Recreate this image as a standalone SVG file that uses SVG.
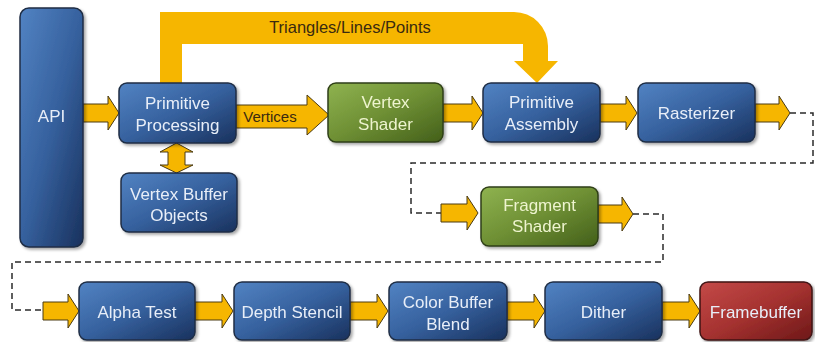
<svg xmlns="http://www.w3.org/2000/svg" width="815" height="342" viewBox="0 0 815 342">
<style>
.node{stroke:#1f2d45;stroke-width:1.5}
.blue{fill:url(#gBlue)}
.green{fill:url(#gGreen);stroke:#2f3f18}
.red{fill:url(#gRed);stroke:#3f1414}
.lbl{font-family:"Liberation Sans",Arial,sans-serif;font-size:17px;text-anchor:middle;fill:#e8eef8}
.glbl{fill:#eef4cf}
.arr{fill:#f6b600;stroke:#4a3a12;stroke-width:1}
.dash{fill:none;stroke:#2a2a2a;stroke-width:1.5;stroke-dasharray:6 4}
.atext{font-family:"Liberation Sans",Arial,sans-serif;fill:#3a2a10;text-anchor:middle}
</style>
<defs>
<linearGradient id="gBlue" x1="0" y1="0" x2="1" y2="1">
<stop offset="0" stop-color="#5283c3"/>
<stop offset="0.5" stop-color="#36619e"/>
<stop offset="1" stop-color="#19315d"/>
</linearGradient>
<linearGradient id="gGreen" x1="0" y1="0" x2="1" y2="1">
<stop offset="0" stop-color="#8fb350"/>
<stop offset="0.5" stop-color="#6e8f34"/>
<stop offset="1" stop-color="#435f1a"/>
</linearGradient>
<linearGradient id="gRed" x1="0" y1="0" x2="1" y2="1">
<stop offset="0" stop-color="#c44a48"/>
<stop offset="0.5" stop-color="#a53230"/>
<stop offset="1" stop-color="#6e1818"/>
</linearGradient>
<filter id="sh" x="-10%" y="-10%" width="130%" height="130%">
<feDropShadow dx="2" dy="2" stdDeviation="1.5" flood-color="#000" flood-opacity="0.35"/>
</filter>
</defs>
<rect width="815" height="342" fill="#ffffff"/>

<g id="connectors">
<!-- big top arrow -->
<path d="M160,84 L160,12 L514,12 A34,34 0 0 1 548,46 L548,61 L558,61 L537,83 L514,61 L523,61 L523,44 L182,44 L182,84 Z" fill="#f6b600"/>
<text class="atext" x="350" y="33" font-size="16.5">Triangles/Lines/Points</text>
<!-- API -> Primitive Processing -->
<polygon class="arr" points="83,104 108,104 108,96 119,113 108,130 108,122 83,122"/>
<!-- Vertices -->
<polygon class="arr" points="236,105 307,105 307,95 329,115 307,135 307,128 236,128"/>
<text class="atext" x="270" y="122" font-size="15">Vertices</text>
<!-- VS -> PA -->
<polygon class="arr" points="443,104 472,104 472,96 483,113 472,130 472,122 443,122"/>
<!-- PA -> Rasterizer -->
<polygon class="arr" points="600,104 626,104 626,96 637,113 626,130 626,122 600,122"/>
<!-- Rasterizer out -->
<polygon class="arr" points="755,104 779,104 779,96 790,113 779,130 779,122 755,122"/>
<!-- double arrow PP <-> VBO -->
<polygon class="arr" points="176.5,143 193,152 185,152 185,165 193,165 176.5,173 160,165 168,165 168,152 160,152"/>
<!-- dashed route 1 -->
<path class="dash" d="M790,113 L813,113 L813,163 L411,163 L411,213 L441,213"/>
<!-- into fragment -->
<polygon class="arr" points="441,204 467,204 467,196 478,213 467,230 467,222 441,222"/>
<!-- out of fragment -->
<polygon class="arr" points="598,205 622,205 622,197 633,214 622,231 622,223 598,223"/>
<!-- dashed route 2 -->
<path class="dash" d="M633,214 L663,214 L663,262 L12,262 L12,310 L43,310"/>
<!-- bottom row arrows -->
<polygon class="arr" points="43,302 68,302 68,294 79,311 68,328 68,320 43,320"/>
<polygon class="arr" points="195,302 222,302 222,294 233,311 222,328 222,320 195,320"/>
<polygon class="arr" points="350,302 377,302 377,294 388,311 377,328 377,320 350,320"/>
<polygon class="arr" points="507,302 534,302 534,294 545,311 534,328 534,320 507,320"/>
<polygon class="arr" points="662,302 689,302 689,294 700,311 689,328 689,320 662,320"/>
</g>

<g id="api" filter="url(#sh)">
<rect class="node blue" x="20" y="8" width="63" height="239" rx="9"/>
<text class="lbl" x="51.5" y="122" font-size="17.5">API</text>
</g>
<g id="primitive-processing" filter="url(#sh)">
<rect class="node blue" x="119" y="83" width="117" height="60" rx="8"/>
<text class="lbl" x="177.5" y="109">Primitive</text>
<text class="lbl" x="177.5" y="131">Processing</text>
</g>
<g id="vertex-buffer-objects" filter="url(#sh)">
<rect class="node blue" x="121" y="173" width="116" height="59" rx="8"/>
<text class="lbl" x="179" y="200">Vertex Buffer</text>
<text class="lbl" x="179" y="221">Objects</text>
</g>
<g id="vertex-shader" filter="url(#sh)">
<rect class="node green" x="328" y="83" width="115" height="59" rx="8"/>
<text class="lbl glbl" x="385.5" y="108">Vertex</text>
<text class="lbl glbl" x="385.5" y="130">Shader</text>
</g>
<g id="primitive-assembly" filter="url(#sh)">
<rect class="node blue" x="483" y="83" width="117" height="59" rx="8"/>
<text class="lbl" x="541.5" y="108">Primitive</text>
<text class="lbl" x="541.5" y="130">Assembly</text>
</g>
<g id="rasterizer" filter="url(#sh)">
<rect class="node blue" x="638" y="83" width="117" height="59" rx="8"/>
<text class="lbl" x="696.5" y="119">Rasterizer</text>
</g>
<g id="fragment-shader" filter="url(#sh)">
<rect class="node green" x="481" y="187" width="117" height="59" rx="8"/>
<text class="lbl glbl" x="539.5" y="211">Fragment</text>
<text class="lbl glbl" x="539.5" y="232">Shader</text>
</g>
<g id="alpha-test" filter="url(#sh)">
<rect class="node blue" x="79" y="282" width="116" height="58" rx="8"/>
<text class="lbl" x="137" y="318">Alpha Test</text>
</g>
<g id="depth-stencil" filter="url(#sh)">
<rect class="node blue" x="234" y="282" width="116" height="58" rx="8"/>
<text class="lbl" x="292" y="318">Depth Stencil</text>
</g>
<g id="color-buffer-blend" filter="url(#sh)">
<rect class="node blue" x="389" y="282" width="118" height="58" rx="8"/>
<text class="lbl" x="448" y="308">Color Buffer</text>
<text class="lbl" x="448" y="330">Blend</text>
</g>
<g id="dither" filter="url(#sh)">
<rect class="node blue" x="545" y="282" width="117" height="58" rx="8"/>
<text class="lbl" x="603.5" y="318">Dither</text>
</g>
<g id="framebuffer" filter="url(#sh)">
<rect class="node red" x="700" y="282" width="112" height="58" rx="8"/>
<text class="lbl" x="756" y="318" fill="#f6eaea">Framebuffer</text>
</g>
</svg>
